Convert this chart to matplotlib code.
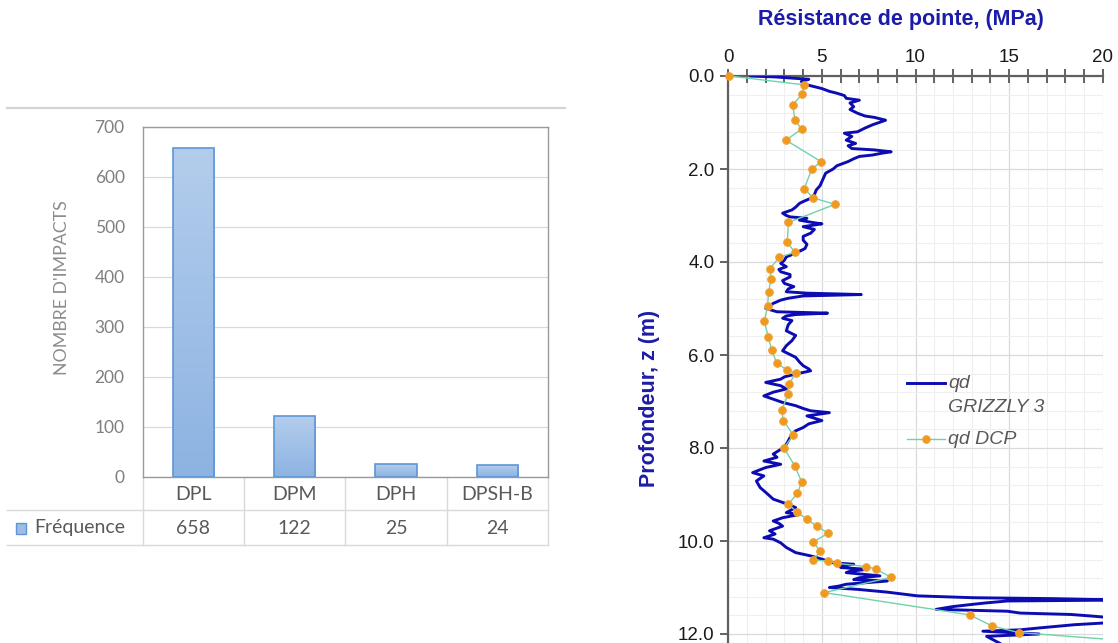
import numpy as np
import matplotlib
matplotlib.use("Agg")
import matplotlib.pyplot as plt
from matplotlib.ticker import MultipleLocator, FormatStrFormatter
from matplotlib.transforms import blended_transform_factory
from matplotlib.lines import Line2D
from matplotlib.patches import Rectangle
from matplotlib.colors import LinearSegmentedColormap

# ---------------- data ----------------
categories = ["DPL", "DPM", "DPH", "DPSH-B"]
frequence = [658, 122, 25, 24]
series_name = "Fréquence"
y_ticks_left = [0, 100, 200, 300, 400, 500, 600, 700]

grizzly_depth = [
    0.00, 0.02, 0.07, 0.12, 0.19, 0.27, 0.33, 0.37, 0.42, 0.48,
    0.52, 0.58, 0.66, 0.72, 0.80, 0.86, 0.89, 0.95, 0.98, 1.05,
    1.12, 1.20, 1.23, 1.30, 1.38, 1.45, 1.50, 1.56, 1.59, 1.63,
    1.66, 1.70, 1.73, 1.78, 1.84, 1.93, 2.00, 2.09, 2.18, 2.27,
    2.36, 2.45, 2.55, 2.63, 2.70, 2.74, 2.82, 2.88, 2.95, 3.00,
    3.03, 3.06, 3.10, 3.15, 3.18, 3.24, 3.30, 3.38, 3.45, 3.53,
    3.62, 3.71, 3.81, 3.89, 3.96, 4.03, 4.10, 4.16, 4.21, 4.27,
    4.32, 4.40, 4.46, 4.53, 4.58, 4.64, 4.67, 4.70, 4.73, 4.78,
    4.82, 4.89, 4.95, 5.00, 5.07, 5.10, 5.13, 5.16, 5.21, 5.26,
    5.35, 5.48, 5.58, 5.69, 5.80, 5.91, 6.05, 6.15, 6.23, 6.30,
    6.34, 6.41, 6.47, 6.52, 6.59, 6.66, 6.73, 6.80, 6.88, 6.95,
    7.02, 7.09, 7.15, 7.20, 7.24, 7.31, 7.36, 7.41, 7.48, 7.56,
    7.63, 7.70, 7.77, 7.85, 7.92, 8.03, 8.13, 8.20, 8.28, 8.35,
    8.42, 8.53, 8.60, 8.71, 8.78, 8.85, 8.92, 8.99, 9.10, 9.17,
    9.28, 9.39, 9.43, 9.50, 9.57, 9.62, 9.68, 9.78, 9.85, 9.93,
    9.96, 10.04, 10.14, 10.25, 10.32, 10.39, 10.43, 10.47, 10.50, 10.54,
    10.57, 10.61, 10.65, 10.68, 10.72, 10.75, 10.79, 10.83, 10.86, 10.90,
    10.93, 10.97, 11.00, 11.04, 11.10, 11.18, 11.22, 11.24, 11.27, 11.29,
    11.33, 11.36, 11.41, 11.47, 11.51, 11.55, 11.58, 11.62, 11.67, 11.72,
    11.76, 11.80, 11.84, 11.87, 11.91, 11.94, 11.98, 12.00, 12.05, 12.20,
]
grizzly_qd = [
    1.2, 2.5, 4.3, 3.9, 4.2, 5.0, 5.4, 5.8, 6.2, 6.3,
    7.0, 6.5, 6.7, 6.5, 6.9, 7.3, 7.8, 8.4, 8.2, 7.7,
    7.3, 6.9, 6.2, 6.6, 6.3, 6.8, 6.4, 6.6, 7.8, 8.7,
    8.2, 7.7, 7.0, 6.7, 6.4, 5.8, 5.6, 5.2, 5.1, 5.0,
    4.9, 4.7, 4.6, 4.4, 4.0, 3.8, 3.6, 3.4, 2.9, 3.1,
    3.3, 4.2, 3.8, 4.5, 5.0, 4.0, 4.6, 4.4, 4.0, 4.0,
    4.2, 4.1, 3.6, 3.1, 3.0, 2.8, 3.1, 2.7, 2.8, 3.3,
    3.3, 2.9, 3.0, 3.5, 3.2, 3.1, 4.2, 7.1, 4.0, 3.2,
    2.8, 2.4, 2.2, 2.0, 2.6, 5.3, 3.6, 3.1, 2.9, 3.4,
    3.2, 3.1, 3.6, 3.4, 3.1, 2.9, 3.6, 3.8, 4.0, 4.3,
    4.4, 3.6, 3.0, 2.8, 2.0, 2.8, 3.1, 2.4, 1.9, 2.4,
    2.9, 3.6, 4.0, 4.4, 5.4, 4.2, 4.6, 5.0, 4.3, 4.0,
    3.6, 3.4, 3.3, 3.2, 3.1, 2.8, 2.4, 2.6, 1.9, 2.8,
    2.0, 1.3, 1.9, 1.5, 1.6, 1.7, 1.9, 2.1, 2.4, 2.9,
    3.6, 3.1, 3.8, 2.9, 2.4, 2.7, 2.9, 2.2, 2.5, 1.9,
    2.4, 2.8, 3.1, 3.6, 4.4, 5.0, 5.3, 5.6, 6.7, 6.0,
    6.0, 7.4, 6.5, 6.3, 7.3, 8.1, 7.0, 6.7, 8.5, 7.2,
    6.3, 5.9, 5.4, 6.9, 8.5, 10.1, 13.1, 17.4, 21.0, 14.9,
    13.8, 13.1, 12.0, 11.1, 14.9, 15.6, 18.3, 19.6, 21.0, 21.5,
    20.2, 18.5, 17.4, 16.6, 15.6, 13.6, 15.6, 16.6, 13.8, 14.5,
]

dcp_depth = [0.00, 0.19, 0.39, 0.62, 0.95, 1.14, 1.38, 1.84, 2.01, 2.42,
             2.62, 2.76, 3.15, 3.58, 3.79, 3.90, 4.14, 4.36, 4.65, 4.95,
             5.27, 5.62, 5.89, 6.17, 6.32, 6.39, 6.62, 6.84, 7.18, 7.41,
             7.72, 8.00, 8.39, 8.73, 8.97, 9.21, 9.37, 9.53, 9.68, 9.83,
             10.02, 10.22, 10.41, 10.43, 10.48, 10.55, 10.60, 10.78, 11.11, 11.59,
             11.83, 11.97, 12.12]
dcp_qd = [0.05, 4.06, 3.95, 3.44, 3.56, 3.92, 3.08, 4.95, 4.45, 4.06,
          4.52, 5.70, 3.21, 3.15, 3.56, 2.72, 2.23, 2.28, 2.15, 2.10,
          1.92, 2.14, 2.32, 2.58, 3.12, 3.61, 3.24, 3.21, 2.85, 2.94,
          3.47, 2.97, 3.56, 3.92, 3.69, 3.21, 3.65, 4.19, 4.72, 5.34,
          4.54, 4.90, 4.54, 5.31, 5.79, 7.34, 7.87, 8.69, 5.13, 12.91,
          14.10, 15.53, 20.5]

x_ticks_right = [0, 5, 10, 15, 20]
y_ticks_right = [0, 2, 4, 6, 8, 10, 12, 14]
label_grizzly = ["qd", "GRIZZLY 3"]
label_dcp = "qd DCP"

# ---------------- figure ----------------
W, H = 1118, 643
fig = plt.figure(figsize=(W / 100, H / 100), dpi=100)
fig.patch.set_facecolor("white")


def fx(px):
    return px / W


def fy(py):
    return 1 - py / H


LEFT_FONT = "Lato"
RIGHT_FONT = "Liberation Sans"

# ---------------- left panel: bar chart + data table ----------------
pl, pr, pt, pb = 142.7, 548.0, 126.7, 476.7
ax1 = fig.add_axes([fx(pl), fy(pb), fx(pr) - fx(pl), (pb - pt) / H])
xpos = np.arange(len(categories))
bars = ax1.bar(xpos, frequence, width=0.41, color="#9dbde7",
               edgecolor="#5f95d4", linewidth=1.2, zorder=3)
grad = np.linspace(0, 1, 256).reshape(-1, 1)
cmap = LinearSegmentedColormap.from_list("g", ["#8db3e2", "#b3cdec"])
for b in bars:
    x0, y0 = b.get_x(), b.get_y()
    im = ax1.imshow(grad, extent=[x0, x0 + b.get_width(), y0, y0 + b.get_height()],
                    aspect="auto", origin="lower", cmap=cmap, zorder=3.5)
    im.set_clip_path(b)
    b.set_facecolor("none")
    b.set_zorder(4)

ax1.set_xlim(-0.5, len(categories) - 0.5)
ax1.set_ylim(0, 700)
ax1.set_yticks(y_ticks_left)
ax1.set_xticks([])
ax1.grid(axis="y", color="#d9d9d9", linewidth=0.9, zorder=0)
ax1.set_axisbelow(True)
for s in ax1.spines.values():
    s.set_color("#9a9a9a")
    s.set_linewidth(1.0)
ax1.tick_params(axis="y", length=0, pad=13, labelsize=12.5, labelcolor="#7f7f7f")
for lab in ax1.get_yticklabels():
    lab.set_fontfamily(LEFT_FONT)
ax1.set_ylabel("NOMBRE D'IMPACTS", fontsize=12.8, color="#8c8c8c", family=LEFT_FONT)
ax1.yaxis.set_label_coords((70 - pl) / (pr - pl), 0.54)

# table
btr = blended_transform_factory(ax1.transData, ax1.transAxes)
ay = lambda py: (pb - py) / (pb - pt)
row1_y, row2_y = ay(495.0), ay(528.0)
line1_y, line2_y = ay(510.5), ay(545.0)
tcol = "#d9d9d9"
for xv in np.arange(len(categories) + 1) - 0.5:
    ax1.plot([xv, xv], [0, line2_y], transform=btr, color=tcol, lw=1.0, clip_on=False)
x_left_tab = -0.5 + (7 - pl) / ((pr - pl) / len(categories))
for yv in (line1_y, line2_y):
    ax1.plot([x_left_tab, len(categories) - 0.5], [yv, yv], transform=btr,
             color=tcol, lw=1.0, clip_on=False)
for i, (c, v) in enumerate(zip(categories, frequence)):
    ax1.text(i, row1_y, c, transform=btr, ha="center", va="center",
             fontsize=14, color="#595959", family=LEFT_FONT)
    ax1.text(i, row2_y, str(v), transform=btr, ha="center", va="center",
             fontsize=14, color="#595959", family=LEFT_FONT)
fig.patches.append(Rectangle((fx(16), fy(534)), fx(10), 11 / H, transform=fig.transFigure,
                             facecolor="#9dbde7", edgecolor="#5f95d4", lw=1.0))
fig.text(fx(34), fy(528), series_name, ha="left", va="center", fontsize=14,
         color="#595959", family=LEFT_FONT)
fig.add_artist(Line2D([fx(7), fx(565)], [fy(107.7), fy(107.7)], color="#d3d3d3", lw=1.6))

# ---------------- right panel: depth profile ----------------
x0p, x20p, y0p = 728.3, 1102.7, 76.0
ppm = 46.5
ymax = 14.0
ybot = y0p + ymax * ppm
ax2 = fig.add_axes([fx(x0p), fy(ybot), fx(x20p) - fx(x0p), (ybot - y0p) / H])
ax2.set_xlim(0, 20)
ax2.set_ylim(ymax, 0)
ax2.xaxis.tick_top()
ax2.set_xticks(x_ticks_right)
ax2.xaxis.set_minor_locator(MultipleLocator(1))
ax2.set_yticks(y_ticks_right)
ax2.yaxis.set_major_formatter(FormatStrFormatter("%.1f"))
ax2.yaxis.set_minor_locator(MultipleLocator(0.4))
ax2.grid(which="major", color="#dadada", lw=0.9, zorder=0)
ax2.grid(which="minor", color="#efefef", lw=0.8, zorder=0)
ax2.set_axisbelow(True)
for side in ("right", "bottom"):
    ax2.spines[side].set_visible(False)
for side in ("left", "top"):
    ax2.spines[side].set_color("#606060")
    ax2.spines[side].set_linewidth(1.6)
ax2.tick_params(axis="x", which="both", direction="inout", length=10, width=1.3,
                color="#555555", labelsize=13.5, labelcolor="#1a1a1a", pad=2)
ax2.tick_params(axis="y", which="major", direction="out", length=6, width=1.3,
                color="#555555", labelsize=13.5, labelcolor="#1a1a1a", pad=4)
ax2.tick_params(axis="y", which="minor", length=0)
for lab in ax2.get_xticklabels() + ax2.get_yticklabels():
    lab.set_fontfamily(RIGHT_FONT)

blue = "#0c0cb2"
ax2.plot(grizzly_qd, grizzly_depth, color=blue, lw=2.1, zorder=3)
ax2.plot(dcp_qd, dcp_depth, color="#6fd3a9", lw=1.0, zorder=4)
dq = np.array(dcp_qd)
dz = np.array(dcp_depth)
inside = dq <= 20
ax2.plot(dq[inside], dz[inside], linestyle="none", marker="o", markersize=5.6,
         markerfacecolor="#ef9a1f", markeredgecolor="#f0a23a", markeredgewidth=0.6,
         zorder=5, clip_on=False)

title_col = "#1c1ca8"
fig.text(fx(901), fy(19), "Résistance de pointe, (MPa)", ha="center", va="center",
         fontsize=15.5, fontweight="bold", color=title_col, family=RIGHT_FONT)
ax2.set_ylabel("Profondeur, z (m)", fontsize=15.5, fontweight="bold", color=title_col,
               family=RIGHT_FONT)
ax2.yaxis.set_label_coords((660 - x0p) / (x20p - x0p), (ybot - 398) / (ybot - y0p))

# legend (manual)
leg_col = "#595959"
fig.add_artist(Line2D([fx(907), fx(945)], [fy(383), fy(383)], color=blue, lw=2.1))
fig.text(fx(948), fy(383), label_grizzly[0], ha="left", va="center", fontsize=14,
         style="italic", color=leg_col, family=RIGHT_FONT)
fig.text(fx(948), fy(407), label_grizzly[1], ha="left", va="center", fontsize=14,
         style="italic", color=leg_col, family=RIGHT_FONT)
fig.add_artist(Line2D([fx(907), fx(945)], [fy(439), fy(439)], color="#6fd3a9", lw=1.0))
fig.add_artist(Line2D([fx(926)], [fy(439)], marker="o", markersize=5.6, linestyle="none",
                      markerfacecolor="#ef9a1f", markeredgecolor="#f0a23a",
                      markeredgewidth=0.6))
fig.text(fx(948), fy(439), label_dcp, ha="left", va="center", fontsize=14,
         style="italic", color=leg_col, family=RIGHT_FONT)

fig.savefig("out.png", dpi=100)
